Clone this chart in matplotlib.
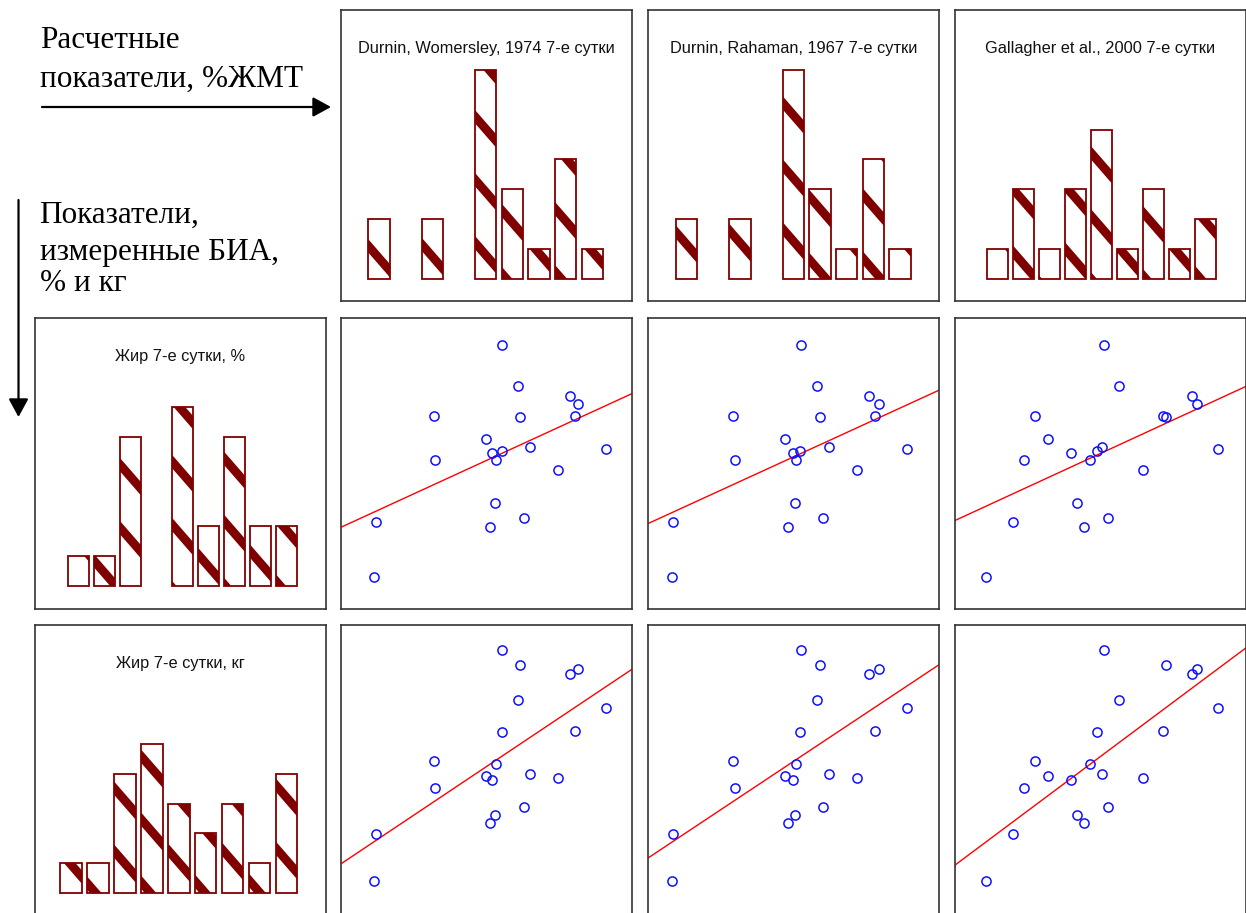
import numpy as np
import matplotlib
matplotlib.use("Agg")
import matplotlib.pyplot as plt
from matplotlib.collections import LineCollection
from matplotlib.patches import FancyArrowPatch

# ---- data -------------------------------------------------------------
col_titles = ["Durnin, Womersley, 1974 7-е сутки",
              "Durnin, Rahaman, 1967 7-е сутки",
              "Gallagher et al., 2000 7-е сутки"]
row_titles = ["Жир 7-е сутки, %", "Жир 7-е сутки, кг"]

# calculated body fat, % (one value per subject, same subject order everywhere)
durnin_womersley = [12.6, 12.8, 17.1, 17.2, 21.0, 21.3, 21.5, 21.8, 21.7, 22.2,
                    22.2, 23.4, 23.6, 23.9, 24.3, 26.4, 27.3, 27.7, 27.9, 30.0]
durnin_rahaman = [11.9, 12.0, 16.5, 16.6, 20.4, 20.6, 21.0, 21.2, 21.1, 21.6,
                  21.5, 22.8, 23.0, 23.2, 23.7, 25.8, 26.7, 27.1, 27.4, 29.5]
gallagher = [12.1, 14.2, 15.9, 15.0, 16.9, 19.6, 18.6, 20.1, 19.1, 21.2,
             20.6, 22.3, 25.9, 21.5, 21.0, 24.2, 27.9, 25.7, 28.3, 29.9]

# BIA measurements
bia_fat_pct = [12.1, 16.3, 24.5, 21.1, 22.7, 15.9, 21.6, 21.1, 17.8, 29.9,
               21.8, 26.8, 24.4, 16.6, 22.1, 20.3, 26.0, 24.5, 25.4, 21.9]
bia_fat_kg = [4.9, 8.4, 13.8, 11.8, 12.7, 9.2, 12.4, 13.6, 9.8, 22.1,
              16.0, 18.4, 21.0, 10.4, 12.9, 12.6, 20.3, 16.1, 20.7, 17.8]

# histogram counts (bins of width 2)
hist_dw_counts = [2, 0, 2, 0, 7, 3, 1, 4, 1]
hist_dr_counts = [2, 0, 2, 0, 7, 3, 1, 4, 1]
hist_gal_counts = [1, 3, 1, 3, 5, 1, 3, 1, 2]
hist_pct_counts = [1, 1, 5, 0, 6, 2, 5, 2, 2]
hist_kg_counts = [1, 1, 4, 5, 3, 2, 3, 1, 4]
pct_bin_centers = [13, 15, 17, 19, 21, 23, 25, 27, 29]
kg_bin_centers = [5, 7, 9, 11, 13, 15, 17, 19, 21]
bin_width = 2.0

# axis ranges of each variable
lim_dw = (10.14, 31.97)
lim_dr = (10.10, 31.93)
lim_gal = (9.71, 32.09)
lim_pct = (9.63, 32.01)
lim_kg = (2.32, 23.94)

# ---- layout -----------------------------------------------------------
W, H = 1246, 913
fig = plt.figure(figsize=(W / 100, H / 100), dpi=100)
fig.patch.set_facecolor("white")

col_left = [35, 341, 648, 955]
row_top = [10.5, 318, 625]
SIZE = 291
MAROON = "#800000"
SANS = ["Liberation Sans", "DejaVu Sans"]
SERIF = ["Liberation Serif", "DejaVu Serif"]


def add_panel(r, c):
    left, top = col_left[c], row_top[r]
    ax = fig.add_axes([left / W, 1 - (top + SIZE) / H, SIZE / W, SIZE / H])
    ax.set_xticks([])
    ax.set_yticks([])
    for sp in ax.spines.values():
        sp.set_color("#333333")
        sp.set_linewidth(1.2)
    return ax


# diagonal stripe pattern in axes fractions (the panels are square)
SLOPE = 1.15
PERIOD = 63 / SIZE


def stripe_segments(phase):
    offs = np.arange(-1.0, 1.0 + SLOPE + 1.0, PERIOD) + phase
    return [[(0.0, c), (1.0, c - SLOPE)] for c in offs]


def draw_hist(ax, centers, counts, lim, title, phase=0.0):
    centers = np.asarray(centers, float)
    counts = np.asarray(counts, float)
    keep = counts > 0
    width = 0.8 * bin_width
    ax.set_xlim(lim)
    ax.set_ylim(-0.77, 9.0)
    bars = ax.bar(centers[keep], counts[keep], width=width, color="white",
                  edgecolor="none", zorder=1)
    segs = stripe_segments(phase)
    for b in bars:
        lc = LineCollection(segs, transform=ax.transAxes, colors=MAROON,
                            linewidths=6.3, zorder=2)
        ax.add_collection(lc, autolim=False)
        lc.set_clip_path(b)
    ax.bar(centers[keep], counts[keep], width=width, fill=False,
           edgecolor=MAROON, linewidth=1.3, zorder=3)
    ax.set_xlim(lim)
    ax.set_ylim(-0.77, 9.0)
    ax.text(0.5, 0.868, title, transform=ax.transAxes, ha="center",
            va="center", fontsize=11.8, family=SANS, color="#111111")


def draw_scatter(ax, x, y, xlim, ylim):
    x = np.asarray(x, float)
    y = np.asarray(y, float)
    k, b = np.polyfit(x, y, 1)
    xs = np.array(xlim)
    ax.plot(xs, k * xs + b, color="red", lw=1.0, zorder=2)
    ax.plot(x, y, "o", ls="none", mfc="none", mec="#1010ff", ms=6.6,
            mew=1.1, zorder=3)
    ax.set_xlim(xlim)
    ax.set_ylim(ylim)


col_data = [durnin_womersley, durnin_rahaman, gallagher]
col_lims = [lim_dw, lim_dr, lim_gal]
col_hists = [hist_dw_counts, hist_dr_counts, hist_gal_counts]
row_data = [bia_fat_pct, bia_fat_kg]
row_lims = [lim_pct, lim_kg]

# top row: histograms of the calculated values
for c in range(3):
    ax = add_panel(0, c + 1)
    draw_hist(ax, pct_bin_centers, col_hists[c], col_lims[c], col_titles[c],
              phase=0.05 * c)

# left column: histograms of BIA values
ax = add_panel(1, 0)
draw_hist(ax, pct_bin_centers, hist_pct_counts, lim_pct, row_titles[0], phase=0.1)
ax = add_panel(2, 0)
draw_hist(ax, kg_bin_centers, hist_kg_counts, lim_kg, row_titles[1], phase=0.02)

# scatter plots with linear fits
for r in range(2):
    for c in range(3):
        ax = add_panel(r + 1, c + 1)
        draw_scatter(ax, col_data[c], row_data[r], col_lims[c], row_lims[r])

# ---- captions and arrows ---------------------------------------------
def fig_text(x, y, s):
    fig.text(x / W, 1 - y / H, s, fontsize=22.5, family=SERIF, ha="left",
             va="baseline", color="black")


fig_text(40, 48, "Расчетные")
fig_text(40, 87, "показатели, %ЖМТ")
fig_text(39.5, 223, "Показатели,")
fig_text(39.5, 260, "измеренные БИА,")
fig_text(39.5, 291, "% и кг")

arrow_style = "-|>,head_length=0.55,head_width=0.3"
harrow = FancyArrowPatch((42 / W, 1 - 107 / H), (331 / W, 1 - 107 / H),
                         transform=fig.transFigure, arrowstyle=arrow_style,
                         mutation_scale=20, lw=1.6, color="black",
                         shrinkA=0, shrinkB=0)
varrow = FancyArrowPatch((18.5 / W, 1 - 200 / H), (18.5 / W, 1 - 417 / H),
                         transform=fig.transFigure, arrowstyle=arrow_style,
                         mutation_scale=20, lw=1.6, color="black",
                         shrinkA=0, shrinkB=0)
fig.add_artist(harrow)
fig.add_artist(varrow)

fig.savefig("out.png", dpi=100, facecolor="white")
